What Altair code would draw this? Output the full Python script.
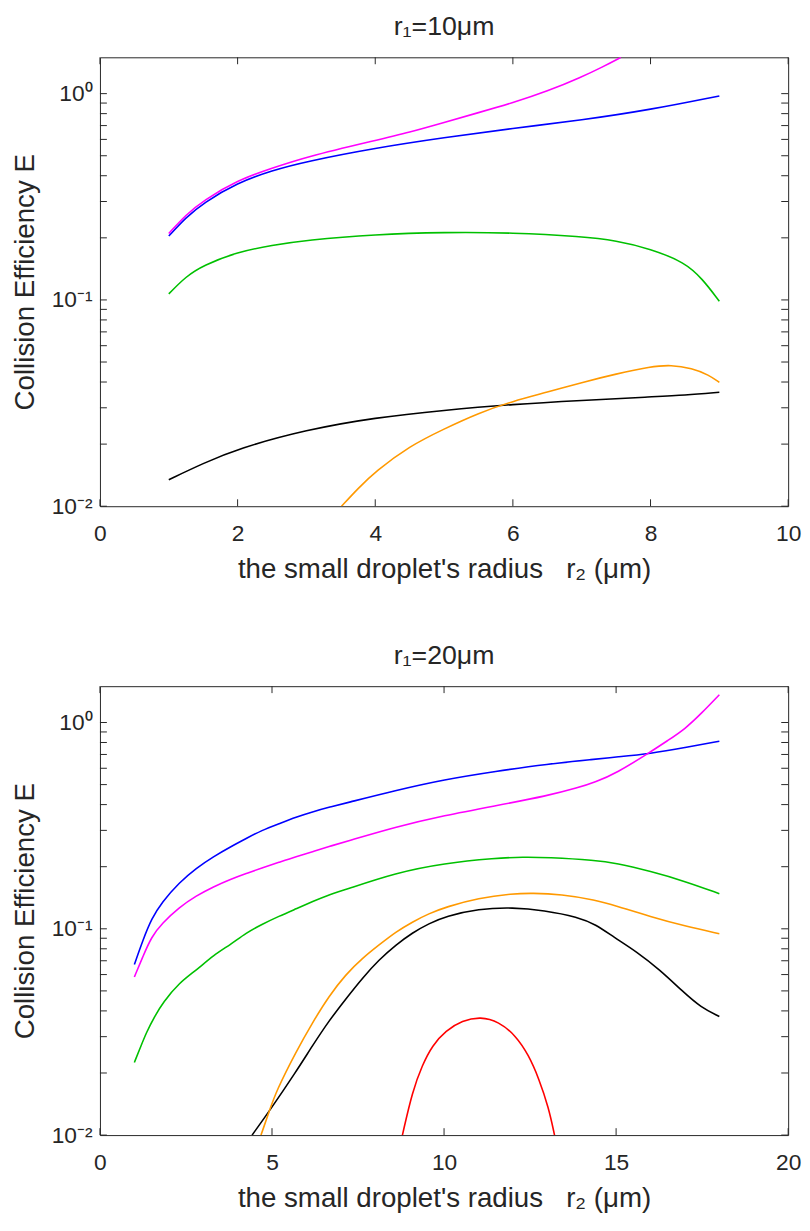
import altair as alt
import pandas as pd

# ---------------- data ----------------
SERIES = ["black", "red", "orange", "green", "blue", "magenta"]
COLORS = ["#000000", "#FF0000", "#FF9900", "#00C000", "#0000FF", "#FF00FF"]

# panel 1 : r1 = 10 um
p1_blue_x = [1, 1.25, 1.5, 2, 2.5, 3, 4, 5, 6, 7, 8, 9]
p1_blue_y = [0.204, 0.251, 0.295, 0.370, 0.424, 0.469, 0.545, 0.612, 0.679, 0.744, 0.836, 0.975]
p1_magenta_x = [1, 1.25, 1.5, 2, 2.5, 3, 4, 4.5, 5, 5.5, 6, 6.5, 7, 7.3, 7.57]
p1_magenta_y = [0.210, 0.259, 0.303, 0.381, 0.435, 0.494, 0.593, 0.650, 0.725, 0.809, 0.903, 1.026, 1.205, 1.345, 1.5]
p1_green_x = [1, 1.25, 1.5, 2, 2.5, 3, 4, 5, 6, 7, 7.5, 8, 8.5, 8.75, 9]
p1_green_y = [0.107, 0.130, 0.147, 0.171, 0.184, 0.195, 0.208, 0.213, 0.212, 0.203, 0.194, 0.177, 0.152, 0.127, 0.0986]
p1_black_x = [1, 1.5, 2, 3, 4, 5, 6, 7, 8, 8.5, 9]
p1_black_y = [0.01345, 0.01614, 0.0190, 0.0235, 0.0269, 0.0292, 0.0312, 0.0326, 0.0339, 0.0345, 0.0357]
p1_orange_x = [3.51, 3.75, 4, 4.5, 5, 5.5, 6, 6.5, 7, 7.5, 8, 8.3, 8.6, 8.85, 9]
p1_orange_y = [0.01, 0.0122, 0.0147, 0.0196, 0.0237, 0.0283, 0.0323, 0.0357, 0.0398, 0.0438, 0.0475, 0.0485, 0.0466, 0.0433, 0.0398]

# panel 2 : r1 = 20 um
p2_blue_x = [1, 1.25, 1.5, 1.8, 2.3, 2.8, 3.3, 3.8, 4.25, 4.7, 5.2, 5.7, 6.2, 6.7, 7.1,
             8.6, 10, 11.5, 13, 14.4, 15, 16, 17, 18]
p2_blue_y = [0.0671, 0.0883, 0.112, 0.1345, 0.1675, 0.197, 0.224, 0.250, 0.274, 0.300, 0.323,
             0.348, 0.370, 0.390, 0.405, 0.469, 0.529, 0.580, 0.629, 0.664, 0.680, 0.707, 0.755, 0.812]
p2_magenta_x = [1, 1.25, 1.5, 1.8, 2.3, 2.8, 3.3, 3.8, 4.25, 4.7, 5.2, 5.7, 6.2, 6.7, 7.1,
                8.6, 10, 11.5, 13, 13.9, 14.4, 15, 16, 16.5, 17, 17.5, 18]
p2_magenta_y = [0.0584, 0.0736, 0.0916, 0.106, 0.127, 0.1446, 0.160, 0.174, 0.1855, 0.197, 0.210,
                0.224, 0.237, 0.252, 0.263, 0.312, 0.354, 0.395, 0.441, 0.483, 0.515, 0.567,
                0.720, 0.818, 0.929, 1.116, 1.364]
p2_green_x = [1, 1.16, 1.35, 1.6, 1.83, 2.3, 2.8, 3.3, 3.8, 4.25, 4.7, 5.2, 5.7, 6.2, 6.6,
              7.14, 8.6, 10, 11.5, 12.3, 13, 14.4, 15, 16, 17, 18]
p2_green_y = [0.0225, 0.0262, 0.0315, 0.0379, 0.0439, 0.0547, 0.063, 0.0745, 0.084, 0.0955,
              0.105, 0.115, 0.125, 0.136, 0.145, 0.155, 0.187, 0.208, 0.220, 0.223, 0.222,
              0.215, 0.208, 0.190, 0.170, 0.148]
p2_orange_x = [4.68, 4.92, 5.12, 5.7, 6.18, 6.66, 7.14, 7.63, 8.11, 8.6, 9.08, 9.56, 10.05,
               11.0, 12.0, 12.55, 13.4, 14.4, 15, 16, 17, 18]
p2_orange_y = [0.01, 0.01305, 0.0163, 0.0254, 0.0352, 0.0473, 0.060, 0.0721, 0.0835, 0.0966,
               0.108, 0.1185, 0.1275, 0.141, 0.148, 0.149, 0.147, 0.138, 0.129, 0.1145, 0.103, 0.0946]
p2_black_x = [4.42, 4.92, 5.7, 6.18, 6.66, 7.14, 7.63, 8.11, 8.6, 9.08, 9.56, 10.05, 11.0,
              12.0, 12.9, 13.9, 14.4, 14.93, 15.6, 16.27, 16.93, 17.47, 18]
p2_black_y = [0.01, 0.01305, 0.0203, 0.0272, 0.0359, 0.0456, 0.0578, 0.0708, 0.0835, 0.0957,
              0.106, 0.115, 0.125, 0.127, 0.123, 0.114, 0.105, 0.0912, 0.0774, 0.0633, 0.0498,
              0.0415, 0.0376]
p2_red_x = [8.79, 9.08, 9.37, 9.66, 10.05, 10.53, 11.06, 11.59, 12.08, 12.46, 12.75, 13.04, 13.21]
p2_red_y = [0.01, 0.0163, 0.0219, 0.0272, 0.0321, 0.0359, 0.0375, 0.0355, 0.0304, 0.0244,
            0.0189, 0.0136, 0.01]

X_TICKS_1 = [0, 2, 4, 6, 8, 10]
X_TICKS_2 = [0, 5, 10, 15, 20]
Y_LABELS = [0.01, 0.1, 1.0]
Y_TICKS = [0.01, 0.02, 0.03, 0.04, 0.05, 0.06, 0.07, 0.08, 0.09,
           0.1, 0.2, 0.3, 0.4, 0.5, 0.6, 0.7, 0.8, 0.9, 1.0]
TITLE_1 = "r\u2081=10\u03bcm"
TITLE_2 = "r\u2081=20\u03bcm"
X_TITLE = "the small droplet's radius\u00a0\u00a0\u00a0r\u2082 (\u03bcm)"
Y_TITLE = "Collision Efficiency E"


def frame(series_list):
    rows = []
    for name, xs, ys in series_list:
        for i, (xv, yv) in enumerate(zip(xs, ys)):
            rows.append({"series": name, "x": xv, "E": yv, "i": i})
    return pd.DataFrame(rows)


df1 = frame([
    ("black", p1_black_x, p1_black_y),
    ("orange", p1_orange_x, p1_orange_y),
    ("green", p1_green_x, p1_green_y),
    ("blue", p1_blue_x, p1_blue_y),
    ("magenta", p1_magenta_x, p1_magenta_y),
])
df2 = frame([
    ("black", p2_black_x, p2_black_y),
    ("red", p2_red_x, p2_red_y),
    ("orange", p2_orange_x, p2_orange_y),
    ("green", p2_green_x, p2_green_y),
    ("blue", p2_blue_x, p2_blue_y),
    ("magenta", p2_magenta_x, p2_magenta_y),
])

W, H = 696, 454
TICK = 7
AX = "#262626"
FONT = "Liberation Sans"
LABEL_EXPR = ("datum.value == 1 ? '10\u2070' : datum.value == 0.1 ? '10\u207b\u00b9' : "
              "'10\u207b\u00b2'")


def panel(df, xmax, xticks, title):
    xscale = alt.Scale(domain=[0, xmax], nice=False, zero=False)
    yscale = alt.Scale(type="log", domain=[0.01, 1.5], nice=False)
    color = alt.Color("series:N", scale=alt.Scale(domain=SERIES, range=COLORS), legend=None)

    lines = alt.Chart(df).mark_line(strokeWidth=1.6, interpolate="basis", clip=True).encode(
        x=alt.X("x:Q", scale=xscale, axis=alt.Axis(
            orient="bottom", values=xticks, ticks=False, tickSize=0, domain=False, grid=False,
            labelPadding=17, labelFlush=False, labelOverlap=False,
            title=X_TITLE, titleY=72, titleBaseline="alphabetic")),
        y=alt.Y("E:Q", scale=yscale, axis=alt.Axis(
            orient="left", values=Y_LABELS, ticks=False, tickSize=0, domain=False, grid=False,
            labelExpr=LABEL_EXPR, labelPadding=8, labelOverlap=False,
            title=Y_TITLE, titleX=-67, titleBaseline="alphabetic")),
        color=color,
        order=alt.Order("i:Q"),
    )

    xt = alt.Chart(pd.DataFrame({"x": xticks}))
    yt = alt.Chart(pd.DataFrame({"E": Y_TICKS}))
    xs = alt.X("x:Q", scale=xscale, axis=None)
    ys = alt.Y("E:Q", scale=yscale, axis=None)
    tick_bottom = xt.mark_rule(color=AX, strokeWidth=1).encode(
        x=xs, y=alt.value(H - TICK), y2=alt.value(H))
    tick_top = xt.mark_rule(color=AX, strokeWidth=1).encode(
        x=xs, y=alt.value(0), y2=alt.value(TICK))
    tick_left = yt.mark_rule(color=AX, strokeWidth=1).encode(
        y=ys, x=alt.value(0), x2=alt.value(TICK))
    tick_right = yt.mark_rule(color=AX, strokeWidth=1).encode(
        y=ys, x=alt.value(W - TICK), x2=alt.value(W))

    return alt.layer(lines, tick_bottom, tick_top, tick_left, tick_right).resolve_axis(
        x="independent", y="independent"
    ).properties(
        width=W, height=H,
        title=alt.TitleParams(text=title, fontSize=27, fontWeight="normal", color=AX,
                              offset=16, font=FONT),
    )


chart = alt.vconcat(
    panel(df1, 10, X_TICKS_1, TITLE_1),
    panel(df2, 20, X_TICKS_2, TITLE_2),
    spacing=58,
).properties(
    padding={"left": 3, "top": -2, "right": 0, "bottom": 0},
).configure(
    font=FONT,
).configure_view(
    stroke=AX, strokeWidth=1,
).configure_axis(
    labelFontSize=23, titleFontSize=28, labelColor=AX, titleColor=AX,
    titleFontWeight="normal", labelFont=FONT, titleFont=FONT,
).configure_title(
    anchor="middle",
)

chart.save("out.html", embed_options={"renderer": "svg", "actions": False})
